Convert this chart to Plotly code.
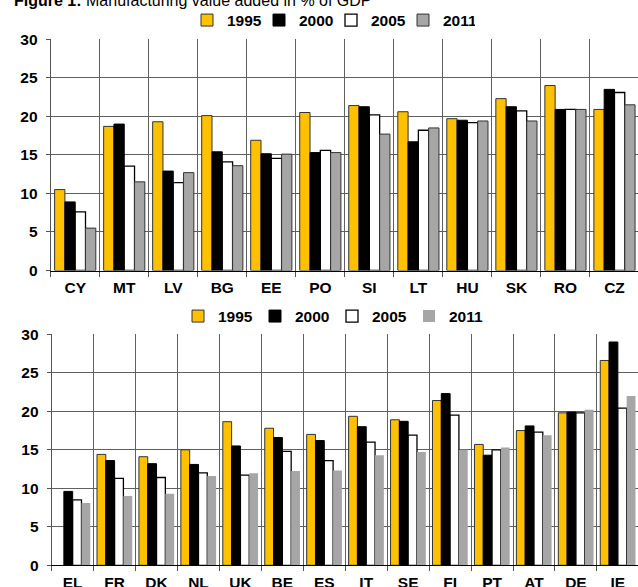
import plotly.graph_objects as go

years = ["1995", "2000", "2005", "2011"]

top_countries = ["CY", "MT", "LV", "BG", "EE", "PO", "SI", "LT", "HU", "SK", "RO", "CZ"]
top_1995 = [10.5, 18.7, 19.3, 20.1, 16.9, 20.5, 21.4, 20.6, 19.7, 22.3, 24.0, 20.9]
top_2000 = [8.9, 19.0, 12.9, 15.4, 15.15, 15.3, 21.25, 16.7, 19.5, 21.25, 20.9, 23.5]
top_2005 = [7.6, 13.55, 11.4, 14.1, 14.55, 15.6, 20.2, 18.2, 19.2, 20.7, 20.9, 23.1]
top_2011 = [5.5, 11.5, 12.7, 13.6, 15.1, 15.3, 17.7, 18.5, 19.4, 19.4, 20.9, 21.5]

bottom_countries = ["EL", "FR", "DK", "NL", "UK", "BE", "ES", "IT", "SE", "FI", "PT", "AT", "DE", "IE"]
bot_1995 = [None, 14.4, 14.1, 15.0, 18.65, 17.8, 17.0, 19.35, 18.9, 21.4, 15.7, 17.5, 19.8, 26.6]
bot_2000 = [9.6, 13.6, 13.2, 13.1, 15.5, 16.6, 16.2, 18.0, 18.7, 22.3, 14.3, 18.1, 19.9, 29.0]
bot_2005 = [8.5, 11.3, 11.4, 12.0, 11.7, 14.8, 13.6, 16.0, 16.9, 19.5, 15.0, 17.3, 19.8, 20.4]
bot_2011 = [8.1, 9.0, 9.3, 11.6, 11.95, 12.25, 12.3, 14.3, 14.7, 15.0, 15.3, 16.9, 20.2, 22.0]

W, H = 638, 587
FONT = "Liberation Sans, Arial, sans-serif"

top_styles = [
    dict(color="#FFC000", line=dict(color="#333333", width=1)),
    dict(color="#000000", line=dict(color="#000000", width=1)),
    dict(color="#FFFFFF", line=dict(color="#000000", width=1.3)),
    dict(color="#A6A6A6", line=dict(color="#333333", width=1)),
]
bot_styles = [
    dict(color="#FFC000", line=dict(color="#333333", width=1)),
    dict(color="#000000", line=dict(color="#000000", width=1)),
    dict(color="#FFFFFF", line=dict(color="#000000", width=1.3)),
    dict(color="#A6A6A6", line=dict(color="#A6A6A6", width=0)),
]

fig = go.Figure()
for yr, vals, st in zip(years, [top_1995, top_2000, top_2005, top_2011], top_styles):
    fig.add_trace(go.Bar(x=top_countries, y=vals, name=yr, marker=st,
                         xaxis="x", yaxis="y", legend="legend"))
for yr, vals, st in zip(years, [bot_1995, bot_2000, bot_2005, bot_2011], bot_styles):
    fig.add_trace(go.Bar(x=bottom_countries, y=vals, name=yr, marker=st,
                         xaxis="x2", yaxis="y2", legend="legend2"))

tickfont = dict(family=FONT, size=15.5, color="#000000", weight="bold")
GRID = "#606060"

def xax(domain, anchor, n):
    return dict(domain=domain, anchor=anchor, type="category", tickson="boundaries",
                range=[-0.5, n - 0.52], showgrid=True, gridcolor=GRID, gridwidth=1,
                showline=True, linecolor="#000000", linewidth=1, ticks="outside",
                ticklen=5, tickcolor="#555555", tickfont=tickfont, fixedrange=True,
                ticklabelstandoff=3, automargin=False)

def yax(domain, anchor):
    return dict(domain=domain, anchor=anchor, range=[0, 30], dtick=5, showgrid=True,
                gridcolor=GRID, gridwidth=1, zeroline=False, showline=True,
                linecolor="#555555", linewidth=1, ticks="outside", ticklen=4,
                tickcolor="#555555", tickfont=tickfont, fixedrange=True,
                ticklabelstandoff=5, automargin=False)

legfont = dict(family=FONT, size=15.5, color="#000000", weight="bold")

fig.update_layout(
    width=W, height=H,
    margin=dict(l=0, r=0, t=0, b=0, autoexpand=False),
    paper_bgcolor="white", plot_bgcolor="white",
    barmode="group", bargap=0.16, bargroupgap=0,
    xaxis=xax([50.7 / W, 1], "y", len(top_countries)),
    yaxis=yax([1 - 270.5 / H, 1 - 39.3 / H], "x"),
    xaxis2=xax([51.7 / W, 1], "y2", len(bottom_countries)),
    yaxis2=yax([1 - 565.3 / H, 1 - 334.3 / H], "x2"),
    legend=dict(orientation="h", x=187 / W, xanchor="left", y=1 - 3.5 / H, yanchor="top",
                entrywidth=27, entrywidthmode="pixels", font=legfont,
                bgcolor="rgba(0,0,0,0)"),
    legend2=dict(orientation="h", x=178 / W, xanchor="left", y=1 - 299.5 / H, yanchor="top",
                 entrywidth=32, entrywidthmode="pixels", font=legfont,
                 bgcolor="rgba(0,0,0,0)"),
    annotations=[dict(text="<b>Figure 1:</b> Manufacturing value added in % of GDP",
                      xref="paper", yref="paper", x=12 / W, y=1, xanchor="left",
                      yanchor="middle", showarrow=False,
                      font=dict(family=FONT, size=16, color="#000000"))],
)

fig.write_html("out.html", config={"displayModeBar": False},
               post_script="document.body.style.margin='0';")
